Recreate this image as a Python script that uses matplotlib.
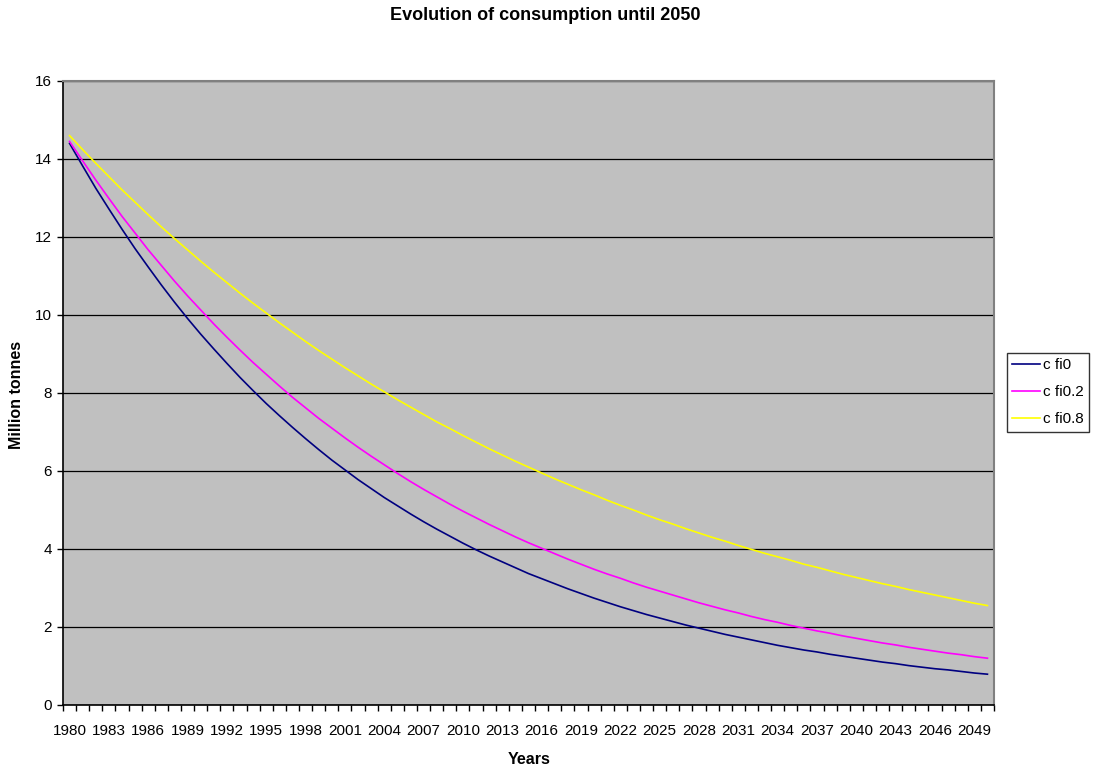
import matplotlib
matplotlib.use("Agg")
import matplotlib.pyplot as plt
import numpy as np

years = list(range(1980, 2051))

c_fi0 = [14.40, 13.82, 13.25, 12.72, 12.20, 11.70, 11.23, 10.77, 10.33, 9.91,
         9.51, 9.13, 8.76, 8.40, 8.06, 7.73, 7.42, 7.12, 6.83, 6.55,
         6.28, 6.03, 5.78, 5.55, 5.32, 5.11, 4.90, 4.70, 4.51, 4.33,
         4.15, 3.98, 3.82, 3.67, 3.52, 3.37, 3.24, 3.11, 2.98, 2.86,
         2.74, 2.63, 2.52, 2.42, 2.32, 2.23, 2.14, 2.05, 1.97, 1.89,
         1.81, 1.74, 1.67, 1.60, 1.53, 1.47, 1.41, 1.36, 1.30, 1.25,
         1.20, 1.15, 1.10, 1.06, 1.01, 0.97, 0.93, 0.90, 0.86, 0.82,
         0.79]

c_fi02 = [14.45, 13.95, 13.46, 12.99, 12.53, 12.10, 11.67, 11.27, 10.87, 10.49,
          10.13, 9.77, 9.43, 9.10, 8.78, 8.48, 8.18, 7.89, 7.62, 7.35,
          7.10, 6.85, 6.61, 6.38, 6.16, 5.94, 5.73, 5.53, 5.34, 5.15,
          4.97, 4.80, 4.63, 4.47, 4.31, 4.16, 4.02, 3.88, 3.74, 3.61,
          3.48, 3.36, 3.25, 3.13, 3.02, 2.92, 2.82, 2.72, 2.62, 2.53,
          2.44, 2.36, 2.27, 2.19, 2.12, 2.04, 1.97, 1.90, 1.84, 1.77,
          1.71, 1.65, 1.59, 1.54, 1.48, 1.43, 1.38, 1.33, 1.29, 1.24,
          1.20]

c_fi08 = [14.60, 14.24, 13.89, 13.55, 13.21, 12.89, 12.57, 12.26, 11.96, 11.67,
          11.38, 11.10, 10.83, 10.56, 10.30, 10.05, 9.80, 9.56, 9.32, 9.09,
          8.87, 8.65, 8.44, 8.23, 8.03, 7.83, 7.64, 7.45, 7.26, 7.09,
          6.91, 6.74, 6.57, 6.41, 6.25, 6.10, 5.95, 5.80, 5.66, 5.52,
          5.39, 5.25, 5.12, 5.00, 4.87, 4.75, 4.64, 4.52, 4.41, 4.30,
          4.20, 4.09, 3.99, 3.89, 3.80, 3.71, 3.61, 3.53, 3.44, 3.35,
          3.27, 3.19, 3.11, 3.04, 2.96, 2.89, 2.82, 2.75, 2.68, 2.61,
          2.55]

series = [("c fi0", c_fi0, "#000080"),
          ("c fi0.2", c_fi02, "#FF00FF"),
          ("c fi0.8", c_fi08, "#FFFF00")]

plt.rcParams['font.family'] = ['Liberation Sans', 'DejaVu Sans']

fig = plt.figure(figsize=(10.97, 7.69), dpi=100)
ax = fig.add_axes([63/1097, 64/769, (994-63)/1097, (705-81)/769])
ax.set_facecolor("#C0C0C0")

x = np.arange(len(years))
for name, vals, col in series:
    ax.plot(x, vals, color=col, lw=1.2, label=name)

ax.set_xlim(-0.5, len(years) - 0.5)
ax.set_ylim(0, 16)
ax.set_yticks(np.arange(0, 17, 2))
ax.yaxis.grid(True, color="black", lw=0.9)
ax.set_axisbelow(True)

major = x[::3]
ax.set_xticks(major)
ax.set_xticklabels([str(years[i]) for i in major])
ax.set_xticks(np.arange(-0.5, len(years), 1.0), minor=True)
ax.tick_params(axis='x', which='major', length=0, pad=13.5, labelsize=11)
ax.tick_params(axis='x', which='minor', length=4, width=1, direction='out')
ax.tick_params(axis='y', length=4, width=1, direction='out', labelsize=11, pad=4)

for s in ['left', 'bottom']:
    ax.spines[s].set_color('black')
    ax.spines[s].set_linewidth(1.2)
for s in ['top', 'right']:
    ax.spines[s].set_color('#808080')
    ax.spines[s].set_linewidth(1.5)

fig.text(545/1097, 1 - 15/769, "Evolution of consumption until 2050",
         ha='center', va='center', fontsize=13, fontweight='bold')
fig.text(529/1097, 1 - 760/769, "Years", ha='center', va='center',
         fontsize=11.5, fontweight='bold')
fig.text(17/1097, 1 - 395/769, "Million tonnes", ha='center', va='center',
         rotation=90, fontsize=11.5, fontweight='bold')

leg = fig.legend(loc='upper left', bbox_to_anchor=(1007/1097, 1 - 353/769),
                 frameon=True, fancybox=False, shadow=False, fontsize=11,
                 handlelength=1.8, handletextpad=0.2, borderpad=0.35,
                 labelspacing=0.85, borderaxespad=0)
leg.get_frame().set_edgecolor('black')
leg.get_frame().set_linewidth(1.0)

fig.savefig("out.png", dpi=100)
